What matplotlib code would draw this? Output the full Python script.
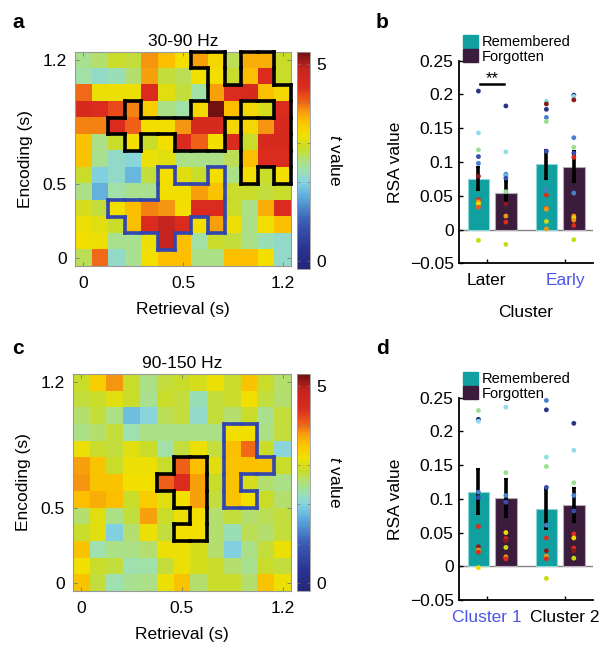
import numpy as np
import matplotlib
matplotlib.use("Agg")
import matplotlib.pyplot as plt
from matplotlib.colors import LinearSegmentedColormap, Normalize
from matplotlib.collections import LineCollection
from matplotlib.patches import Patch

plt.rcParams['font.family'] = ['Liberation Sans', 'DejaVu Sans']
plt.rcParams['mathtext.fontset'] = 'custom'
plt.rcParams['mathtext.it'] = 'Liberation Sans:italic'
plt.rcParams['mathtext.rm'] = 'Liberation Sans'

# ---- data: t-value maps (rows = encoding, top row 1.2 s; cols = retrieval) ----
tval_30_90 = [
    [2.45, 2.6, 2.85, 2.78, 3.8, 3.55, 3.2, 3.75, 3.3, 2.7, 3.65, 3.65, 2.85],
    [2.35, 2.15, 2.25, 2.6, 3.75, 2.78, 2.7, 3.2, 3.2, 2.85, 3.55, 4.4, 2.85],
    [4.0, 3.15, 3.15, 3.15, 4.4, 3.05, 2.78, 2.35, 3.75, 4.4, 4.5, 3.55, 3.3],
    [4.5, 4.4, 4.2, 3.9, 3.4, 2.5, 2.35, 3.3, 5.3, 3.55, 3.3, 2.95, 4.4],
    [3.9, 3.9, 4.4, 4.05, 3.2, 3.2, 3.8, 4.5, 4.5, 3.3, 3.3, 3.8, 4.5],
    [3.5, 2.5, 2.85, 3.2, 2.85, 3.2, 4.4, 4.05, 3.2, 4.4, 2.85, 4.5, 4.5],
    [3.5, 2.45, 2.15, 2.05, 3.15, 3.05, 2.5, 2.5, 2.5, 2.7, 3.55, 4.4, 4.4],
    [2.85, 1.95, 2.15, 1.75, 2.78, 3.2, 3.05, 2.85, 3.2, 2.5, 3.2, 2.85, 3.2],
    [2.5, 1.7, 2.35, 2.45, 2.45, 3.2, 3.2, 3.75, 3.5, 2.85, 2.85, 2.78, 2.85],
    [2.95, 2.78, 3.2, 3.55, 3.9, 3.8, 3.2, 4.4, 4.4, 2.85, 2.5, 3.65, 4.4],
    [3.15, 3.05, 2.85, 3.55, 4.4, 4.85, 4.4, 3.2, 3.75, 3.15, 2.5, 3.2, 3.55],
    [3.2, 3.15, 2.45, 2.45, 3.15, 4.85, 3.55, 2.35, 2.85, 2.78, 2.5, 2.25, 2.15],
    [2.7, 4.0, 2.15, 2.45, 3.2, 3.55, 3.55, 2.5, 2.5, 3.55, 3.55, 3.2, 2.15],
]
tval_90_150 = [
    [2.85, 3.4, 3.8, 2.85, 2.5, 2.78, 2.85, 2.95, 3.15, 2.85, 3.5, 2.85, 2.6],
    [2.78, 2.85, 3.05, 2.85, 2.45, 2.85, 2.78, 2.25, 2.78, 2.85, 3.2, 2.78, 2.6],
    [2.6, 2.78, 2.5, 1.8, 2.05, 2.7, 2.78, 2.15, 2.78, 2.6, 2.85, 2.45, 2.78],
    [2.5, 2.6, 2.78, 2.3, 2.5, 2.5, 2.5, 2.5, 2.5, 3.2, 3.2, 2.5, 2.78],
    [3.15, 2.85, 2.78, 3.05, 2.85, 2.35, 2.78, 3.15, 2.78, 3.55, 4.0, 2.85, 2.05],
    [3.75, 3.5, 2.85, 3.15, 3.15, 2.85, 4.05, 3.55, 3.05, 3.5, 3.55, 3.5, 2.85],
    [3.8, 3.5, 3.5, 3.2, 3.2, 4.05, 4.4, 3.75, 2.85, 3.5, 2.95, 2.6, 2.5],
    [3.55, 3.65, 3.55, 2.85, 3.4, 3.05, 3.2, 3.75, 2.78, 3.5, 3.2, 2.85, 2.6],
    [2.6, 3.05, 2.5, 2.78, 3.75, 2.85, 3.15, 3.2, 2.6, 2.78, 2.6, 2.7, 2.78],
    [2.85, 3.05, 1.95, 2.6, 3.15, 2.78, 3.2, 3.2, 2.6, 2.25, 2.7, 2.6, 2.78],
    [3.5, 2.3, 2.5, 2.5, 2.6, 3.15, 3.15, 2.95, 2.6, 1.95, 2.5, 2.78, 3.15],
    [3.2, 2.85, 2.78, 2.3, 2.35, 2.78, 3.15, 2.95, 2.85, 2.6, 2.45, 2.85, 2.78],
    [3.5, 2.78, 2.3, 2.45, 2.5, 3.15, 3.5, 2.6, 2.85, 2.85, 2.6, 3.5, 3.15],
]

# significant clusters ('#' = cell inside cluster)
later_cluster_a = [
    ".......##.##.", "........#.##.", "........#####", "...#...###..#",
    "..#######.###", "...#..###.###", "..........###", "..........#.#",
    ".............", ".............", ".............", ".............", ".............",
]
early_cluster_a = [
    ".............", ".............", ".............", ".............",
    ".............", ".............", ".............", ".....#..#....",
    ".....####....", "..#######....", "...####.#....", ".....#.......", ".............",
]
cluster1_c = [
    ".............", ".............", ".............", ".........##..",
    ".........##..", ".........###.", ".........#...", ".........##..",
    ".............", ".............", ".............", ".............", ".............",
]
cluster2_c = [
    ".............", ".............", ".............", ".............",
    ".............", "......##.....", ".....###.....", "......##.....",
    ".......#.....", "......##.....", ".............", ".............", ".............",
]

time_ticks = ['0', '0.5', '1.2']

# ---- data: RSA bars ----
conditions = ['Remembered', 'Forgotten']
clusters_b = ['Later', 'Early']
rsa_rem_b = [0.0755, 0.0964]
rsa_forg_b = [0.0547, 0.0930]
sem_rem_b = [0.017, 0.022]
sem_forg_b = [0.017, 0.023]
# (value, subject)
pts_rem_b = [
    [(0.205, 0), (0.143, 4), (0.118, 5), (0.108, 1), (0.098, 2), (0.079, 11),
     (0.044, 10), (0.041, 8), (0.038, 7), (0.033, 9), (-0.016, 6)],
    [(0.190, 4), (0.186, 11), (0.178, 0), (0.166, 2), (0.160, 5), (0.116, 1),
     (0.059, 2), (0.051, 10), (0.032, 9), (0.030, 8), (0.012, 6), (0.001, 8)],
]
pts_forg_b = [
    [(0.183, 0), (0.115, 4), (0.082, 2), (0.080, 3), (0.076, 1), (0.056, 5),
     (0.038, 11), (0.020, 8), (0.011, 10), (-0.022, 6)],
    [(0.199, 0), (0.197, 4), (0.192, 11), (0.136, 2), (0.122, 5), (0.113, 1),
     (0.107, 10), (0.054, 2), (0.020, 8), (0.017, 7), (0.014, 8), (0.006, 10), (-0.015, 6)],
]

clusters_d = ['Cluster 1', 'Cluster 2']
rsa_rem_d = [0.1106, 0.0853]
rsa_forg_d = [0.1017, 0.0913]
sem_rem_d = [0.033, 0.030]
sem_forg_d = [0.028, 0.025]
pts_rem_d = [
    [(0.231, 5), (0.218, 0), (0.215, 4), (0.110, 2), (0.102, 1), (0.059, 10),
     (0.029, 11), (0.024, 8), (0.021, 10), (-0.002, 7)],
    [(0.246, 2), (0.232, 0), (0.162, 4), (0.148, 5), (0.117, 1), (0.061, 2),
     (0.042, 10), (0.023, 11), (0.015, 8), (0.011, 10), (-0.018, 6)],
]
pts_forg_d = [
    [(0.236, 4), (0.139, 5), (0.105, 2), (0.095, 1), (0.050, 7), (0.041, 10),
     (0.038, 11), (0.028, 6), (0.014, 8), (0.011, 10)],
    [(0.212, 0), (0.172, 4), (0.124, 5), (0.105, 2), (0.082, 1), (0.048, 10),
     (0.042, 7), (0.027, 10), (0.023, 11), (0.012, 6)],
]

# ---- styles ----
VMIN, VMAX = -0.2, 5.3
cmap_stops = [(-0.2, '#24267a'), (0.3, '#2b3290'), (1.0, '#3a5cb4'), (1.6, '#5aa8dc'),
              (2.0, '#86d4e0'), (2.3, '#9ee0b0'), (2.6, '#b4e070'), (2.85, '#cadc28'),
              (3.2, '#f2e000'), (3.55, '#fcc000'), (3.8, '#f79810'), (4.05, '#ee6018'),
              (4.4, '#dc2c1e'), (4.9, '#c42420'), (5.3, '#701010')]
cmap = LinearSegmentedColormap.from_list(
    'tmap', [((v - VMIN) / (VMAX - VMIN), c) for v, c in cmap_stops])
norm = Normalize(VMIN, VMAX)

subject_colors = ['#2a3485', '#3550b0', '#4a7fcc', '#6ab4e2', '#92dbe8', '#98e090',
                  '#c8dc10', '#f0dc00', '#f09a10', '#ee5a18', '#e02a1c', '#8a1a1a']
col_rem = '#10a0a0'
col_forg = '#3c1c3c'
blue_txt = '#4c56e8'
FS = 12.5
FS_LEG = 10.5

W, H = 604, 648
fig = plt.figure(figsize=(W / 100, H / 100), dpi=100)


def fig_rect(l, t, r, b):
    return [l / W, 1 - b / H, (r - l) / W, (b - t) / H]


def cluster_edges(rows):
    m = np.array([[ch == '#' for ch in r] for r in rows])
    n, k = m.shape
    segs = []
    for i in range(n):
        for j in range(k):
            if not m[i, j]:
                continue
            if i == 0 or not m[i - 1, j]:
                segs.append([(j - .5, i - .5), (j + .5, i - .5)])
            if i == n - 1 or not m[i + 1, j]:
                segs.append([(j - .5, i + .5), (j + .5, i + .5)])
            if j == 0 or not m[i, j - 1]:
                segs.append([(j - .5, i - .5), (j - .5, i + .5)])
            if j == k - 1 or not m[i, j + 1]:
                segs.append([(j + .5, i - .5), (j + .5, i + .5)])
    return segs


def heatmap(rect, crect, data, title, black_rows, blue_rows):
    ax = fig.add_axes(fig_rect(*rect))
    im = ax.imshow(np.array(data), cmap=cmap, norm=norm, aspect='auto',
                   interpolation='nearest', origin='upper')
    for rows, c in [(black_rows, 'black'), (blue_rows, '#3346b0')]:
        lc = LineCollection(cluster_edges(rows), colors=c, linewidths=2.6,
                            capstyle='projecting', clip_on=False, zorder=3)
        ax.add_collection(lc)
    ax.set_xlim(-0.5, 12.5)
    ax.set_ylim(12.5, -0.5)
    ax.set_xticks([0, 6, 12])
    ax.set_xticklabels(time_ticks)
    ax.set_yticks([12, 7.5, 0])
    ax.set_yticklabels(time_ticks)
    ax.tick_params(direction='in', length=3, width=0.6, color='#777777',
                   top=True, right=True, labelsize=FS, pad=6)
    ax.tick_params(axis='x', pad=7)
    for s in ax.spines.values():
        s.set_color('#999999')
        s.set_linewidth(0.8)
    ax.set_xlabel('Retrieval (s)', fontsize=FS, labelpad=8)
    ax.set_ylabel('Encoding (s)', fontsize=FS, labelpad=7)
    ax.set_title(title, fontsize=FS, pad=4)

    cax = fig.add_axes(fig_rect(*crect))
    cb = fig.colorbar(im, cax=cax)
    cb.set_ticks([0, 5])
    cb.set_ticklabels(['0', '5'])
    cb.ax.set_yticks([1, 2, 3, 4], minor=True)
    cb.ax.tick_params(which='both', direction='in', length=2, width=0.5,
                      color='#777777', labelsize=FS, pad=5, left=True)
    cb.outline.set_edgecolor('#999999')
    cb.outline.set_linewidth(0.6)
    cb.set_label(r'$\mathit{t}$ value', rotation=270, fontsize=FS, labelpad=12)
    return ax


def rsa_bars(rect, labels, label_colors, rem, forg, sem_r, sem_f, pts_r, pts_f, xlabel):
    ax = fig.add_axes(fig_rect(*rect))
    ticks = np.array([1.0, 2.0])
    centers = ticks + np.array([0.07, -0.063])
    off, bw = 0.175, 0.275
    for sign, vals, sems, pts, col, ec in [(-1, rem, sem_r, pts_r, col_rem, '#8fd6d6'),
                                           (1, forg, sem_f, pts_f, col_forg, '#b8a8b8')]:
        xs = centers + sign * off
        ax.bar(xs, vals, width=bw, color=col, edgecolor=ec, linewidth=0.8, zorder=1)
        ax.errorbar(xs, vals, yerr=sems, fmt='none', ecolor='black', elinewidth=2.6,
                    capsize=1.5, capthick=1.5, zorder=2)
        for x, group in zip(xs, pts):
            ys = [p[0] for p in group]
            cs = [subject_colors[p[1]] for p in group]
            ax.scatter([x] * len(ys), ys, s=12, c=cs, linewidths=0, zorder=3)
    ax.axhline(0, color='#808080', lw=1.0, zorder=0.5)
    ax.set_xlim(0.651, 2.353)
    ax.set_ylim(-0.05, 0.25)
    ax.set_yticks([-0.05, 0, 0.05, 0.1, 0.15, 0.2, 0.25])
    ax.set_yticklabels(['\u22120.05', '0', '0.05', '0.1', '0.15', '0.2', '0.25'])
    ax.set_xticks(ticks)
    ax.set_xticklabels(labels)
    for t, c in zip(ax.get_xticklabels(), label_colors):
        t.set_color(c)
    ax.tick_params(direction='in', length=3, width=1, labelsize=FS, pad=4)
    ax.tick_params(axis='x', pad=7)
    for s in ['top', 'right']:
        ax.spines[s].set_visible(False)
    for s in ['left', 'bottom']:
        ax.spines[s].set_linewidth(1.3)
    ax.set_ylabel('RSA value', fontsize=FS, labelpad=5)
    if xlabel:
        ax.set_xlabel(xlabel, fontsize=FS, labelpad=12)
    ax.legend(handles=[Patch(color=col_rem), Patch(color=col_forg)], labels=conditions,
              loc='lower left', bbox_to_anchor=(0.03, 0.985), frameon=False,
              handlelength=1.0, handleheight=1.0, handletextpad=0.25,
              labelspacing=0.0, borderpad=0, borderaxespad=0, fontsize=FS_LEG)
    return ax


heatmap((75, 51.5, 291, 266), (296.5, 51.7, 309.5, 269), tval_30_90, '30-90 Hz',
        later_cluster_a, early_cluster_a)
heatmap((73, 374, 291, 591), (296.5, 374, 309.5, 591), tval_90_150, '90-150 Hz',
        cluster2_c, cluster1_c)

ax_b = rsa_bars((459.3, 60.7, 592.7, 263.3), clusters_b, ['black', blue_txt],
                rsa_rem_b, rsa_forg_b, sem_rem_b, sem_forg_b, pts_rem_b, pts_forg_b, 'Cluster')
ax_b.plot([0.915, 1.22], [0.215, 0.215], color='black', lw=1.8, clip_on=False)
ax_b.text(1.07, 0.213, '**', ha='center', va='bottom', fontsize=12)

rsa_bars((459.3, 397.7, 592.7, 600), clusters_d, [blue_txt, 'black'],
         rsa_rem_d, rsa_forg_d, sem_rem_d, sem_forg_d, pts_rem_d, pts_forg_d, None)

for letter, x, y in [('a', 12, 22), ('b', 376, 22), ('c', 12, 348), ('d', 376, 348)]:
    fig.text(x / W, 1 - y / H, letter, fontsize=15, fontweight='bold', ha='left', va='center')

fig.savefig('out.png', dpi=100)
